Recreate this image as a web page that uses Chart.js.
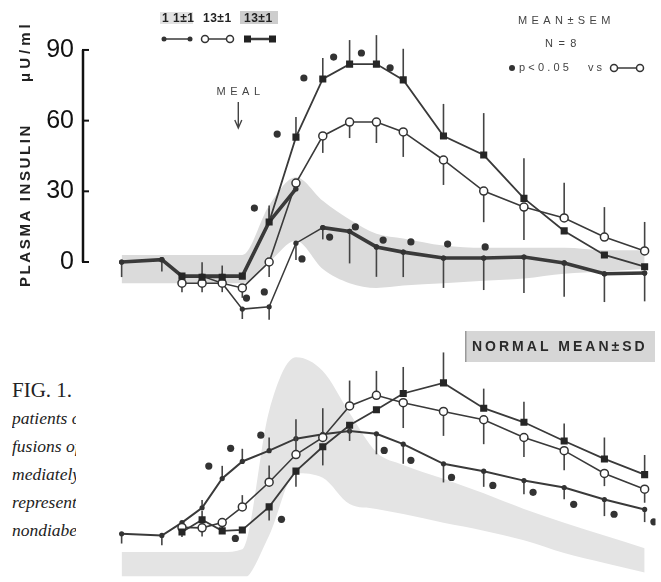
<!DOCTYPE html>
<html>
<head>
<meta charset="utf-8">
<script src="https://cdn.jsdelivr.net/npm/chart.js@4.4.1/dist/chart.umd.min.js"></script>
<style>
html, body { margin: 0; padding: 0; background: #fff; }
#wrap { position: relative; width: 661px; height: 582px; overflow: hidden; background: #fff; }
#wrap canvas { position: absolute; left: 0; top: 0; }
#caption { position: absolute; left: 12px; top: 376px; width: 64px; overflow: hidden; white-space: nowrap;
  font-family: 'Liberation Serif', serif; color: #222; }
#caption div { font-style: italic; font-size: 17.5px; line-height: 28px; }
#caption div.fig { font-style: normal; font-size: 21px; }
</style>
</head>
<body>
<div id="wrap">
  <div id="caption">
    <div class="fig">FIG. 1.</div>
    <div>patients o</div>
    <div>fusions of</div>
    <div>mediately</div>
    <div>represent</div>
    <div>nondiabet</div>
  </div>
  <canvas id="bottomChart" width="661" height="582"></canvas>
  <canvas id="topChart" width="661" height="582"></canvas>
</div>
<script>
// sampling times, min from meal
var times = [-90, -60, -45, -30, -15, 0, 20, 40, 60, 80, 100, 120, 150, 180, 210, 240, 270, 300];
var yTicks = [0, 30, 60, 90];

// upper panel, plasma insulin uU/ml
var topThick   = [0, 1, -6, -6, -6, -6, 17, 31, 14.6, 13, 6.4, 4.2, 1.7, 1.7, 2.1, -0.4, -5, -4.7];
var topThickErr = [-6.4, -5, null, null, null, null, 7, null, -5, -13.6, -12.7, -10.6, -12.7, -13.6, -15.3, -14.4, -12, -12];
var topDots    = [0, 1, -6, -6, -9, -20, -19, 8, 14.6, 13, 6.4, 4.2, 1.7, 1.7, 2.1, -0.4, -5, -4.7];
var topDotsErr = [null, null, null, null, null, -4.2, -5.5, -7.2, null, null, null, null, null, null, null, null, null, null];
var topOpen    = [null, null, -9, -9, -9, -11, 0, 33.5, 53.5, 59.4, 59.4, 55.2, 43.3, 30.1, 23.3, 18.7, 10.6, 4.7];
var topOpenErr = [null, null, -3.8, -3.8, -3.8, -4.2, -6.4, null, -7.2, -6.8, -8.9, -10.6, -10.6, -13.2, -14, 14.9, 12.7, 12.3];
var topSquare  = [null, null, -6, -6.5, -6.5, -6, 17, 53, 77.7, 84, 84, 77.3, 53.5, 45.4, 27, 13.2, 3, -2];
var topSquareErr = [null, null, null, 6.4, 5, null, 5.7, 8.5, 8.9, 10.2, 12.3, 13.2, 13.6, 17.8, 17, null, null, null];
var topBandHi  = [3, 3, 3, 3, 3, 3, 24, 36, 26, 18, 12, 10, 7, 6, 6, 6, 5, 5];
var topBandLo  = [-9, -9, -9, -9, -9, -9, 0, 9, -3, -9, -11, -10, -9, -8, -7, -5, -4, -3];
var topSigTimes = [9, 3.1, 16.4, 44.5, 26, 45.9, 68.1, 88.8, 110.2, 65.1, 84.3, 105, 125.7, 153.1, 181.1];
var topSigVals  = [22.9, -15.3, -12.7, 1.3, 54.3, 78.1, 87, 88.7, 82.4, 10.6, 14.9, 9.3, 8.5, 7.6, 6.4];
var thickBreakAfter = 40;

// lower panel
var botDots    = [0.7, 0, 5.6, 12, 24.7, 32.1, 36.8, 42, 43.9, 45.3, 44.1, 39.6, 31.1, 27.9, 23.8, 20.8, 15.6, 11.3];
var botDotsErr = [-4.2, -4.2, null, 3.4, 5.5, 5.5, 5.7, null, null, null, -8.9, -8.5, -8.1, -6.8, -5.9, -5.1, -7.2, -5.5];
var botOpen    = [null, null, 3.5, 3.3, 5.6, 12.4, 23.1, 35.1, 42.5, 56.2, 60.8, 57.6, 53.8, 50.2, 42.5, 36.8, 26.9, 20.1];
var botOpenErr = [null, null, -4.2, -3.8, -4.2, 5.1, 7.2, 15.3, 12.7, 11, 10.6, -11, -10.6, -10.6, -8.5, -8.5, -5.5, -5.9];
var botSquare  = [null, null, 1.5, 6.8, 2, 2.4, 12.4, 27.9, 38.5, 47.8, 54.5, 61.6, 66.2, 55.2, 49.1, 41, 33.2, 26.4];
var botSquareErr = [null, null, null, 3.8, null, null, -5.9, -6.8, -8.1, -6.8, null, 11.5, 13.2, 8.5, 8.9, 7.6, 9.3, 8.5];
var botBandHi  = [-7.2, -7.2, -7.2, -7.2, -7.2, -6, 54, 77.3, 71.3, 53.1, 36.1, 30.6, 24.6, 18.3, 11.5, 5.5, 0, -5.5];
var botBandLo  = [-19, -19, -19, -19, -19, -19, 0, 27, 25, 13.6, 11.5, 9.3, 5.5, 2.1, -2.1, -7.6, -11.9, -16.1];
var botSigTimes = [-25, -8.7, 13.8, -5.2, 29.2, 105.8, 125.7, 156, 186.8, 216.8, 247.1, 277.2, 306.9];
var botSigVals  = [30.1, 37.8, 43.5, -1.3, 7, 36.9, 32.6, 25.2, 21.7, 18.7, 13.5, 9.2, 5.9];

function pts(vals) {
    return times.map(function (t, i) { return { x: t, y: vals[i] }; });
}
function scatter(ts, vs) {
    return ts.map(function (t, i) { return { x: t, y: vs[i] }; });
}

var INK = '#333';
var LINE = '#3a3a3a';

// one-sided SEM bars, drawn under each series' markers
var errorBars = {
    id: 'errorBars',
    beforeDatasetDraw: function (chart, args) {
        var ds = chart.data.datasets[args.index];
        if (!ds.errors) return;
        var xs = chart.scales[args.meta.xAxisID], ys = chart.scales[args.meta.yAxisID];
        var ctx = chart.ctx;
        ctx.save();
        ctx.strokeStyle = '#444';
        ctx.lineWidth = 1.6;
        ds.data.forEach(function (p, j) {
            var e = ds.errors[j];
            if (e == null || p.y == null) return;
            var x = xs.getPixelForValue(p.x);
            ctx.beginPath();
            ctx.moveTo(x, ys.getPixelForValue(p.y));
            ctx.lineTo(x, ys.getPixelForValue(p.y + e));
            ctx.stroke();
        });
        ctx.restore();
    }
};

function spaced(ctx, txt, x, y, sp, align) {
    ctx.letterSpacing = sp + 'px';
    var w = ctx.measureText(txt).width - sp;
    var x0 = align === 'center' ? x - w / 2 : x;
    ctx.textAlign = 'left';
    ctx.fillText(txt, x0, y);
    ctx.letterSpacing = '0px';
}

function dot(ctx, x, y, r, open) {
    ctx.beginPath();
    ctx.arc(x, y, r, 0, Math.PI * 2);
    if (open) { ctx.fillStyle = '#fff'; ctx.fill(); ctx.lineWidth = 1.5; ctx.strokeStyle = INK; ctx.stroke(); }
    else { ctx.fillStyle = INK; ctx.fill(); }
}

function seg(ctx, x1, y1, x2, y2, w) {
    ctx.beginPath();
    ctx.lineWidth = w;
    ctx.strokeStyle = LINE;
    ctx.moveTo(x1, y1);
    ctx.lineTo(x2, y2);
    ctx.stroke();
}

var topDecor = {
    id: 'topDecor',
    afterDraw: function (chart) {
        var ctx = chart.ctx, ys = chart.scales.y, xs = chart.scales.x;
        var left = chart.chartArea.left;
        ctx.save();
        // axis with inward ticks
        ctx.strokeStyle = '#111';
        ctx.lineWidth = 2.5;
        ctx.beginPath();
        ctx.moveTo(left, ys.getPixelForValue(yTicks[yTicks.length - 1]));
        ctx.lineTo(left, ys.getPixelForValue(yTicks[0]));
        ctx.stroke();
        yTicks.forEach(function (v) {
            var y = ys.getPixelForValue(v);
            ctx.beginPath();
            ctx.lineWidth = 2;
            ctx.moveTo(left - 1, y);
            ctx.lineTo(left + 6, y);
            ctx.stroke();
        });

        // rotated axis title
        ctx.save();
        ctx.fillStyle = '#222';
        ctx.font = 'bold 15px "Liberation Sans", sans-serif';
        ctx.textBaseline = 'alphabetic';
        ctx.translate(30, 287);
        ctx.rotate(-Math.PI / 2);
        spaced(ctx, 'PLASMA INSULIN', 0, 0, 2.6, 'left');
        spaced(ctx, 'μU/ml', 205, 0, 4, 'left');
        ctx.restore();

        // legend of the three regimens
        ctx.fillStyle = '#e2e2e2';
        ctx.fillRect(160, 12, 33, 12);
        ctx.fillStyle = '#cdcdcd';
        ctx.fillRect(240, 11, 38, 13);
        ctx.fillStyle = '#222';
        ctx.font = 'bold 12px "Liberation Sans", sans-serif';
        ctx.textBaseline = 'middle';
        spaced(ctx, '1 1±1', 162, 18.5, 0.5, 'left');
        spaced(ctx, '13±1', 203, 18.5, 0.5, 'left');
        spaced(ctx, '13±1', 244, 18.5, 0.5, 'left');
        seg(ctx, 164, 39, 190, 39, 1.5);
        dot(ctx, 164, 39, 2.5);
        dot(ctx, 190, 39, 2.5);
        seg(ctx, 205, 39, 230, 39, 1.5);
        dot(ctx, 205, 39, 3.5, true);
        dot(ctx, 230, 39, 3.5, true);
        seg(ctx, 248, 39, 272, 39, 2.5);
        ctx.fillStyle = '#222';
        ctx.fillRect(244, 35.5, 7, 7);
        ctx.fillRect(269, 35.5, 7, 7);

        // meal marker
        var mx = xs.getPixelForValue(-3);
        ctx.fillStyle = '#444';
        ctx.font = '11px "Liberation Sans", sans-serif';
        spaced(ctx, 'MEAL', mx, 92, 4.5, 'center');
        ctx.strokeStyle = '#444';
        ctx.lineWidth = 1.4;
        ctx.beginPath();
        ctx.moveTo(mx, 102);
        ctx.lineTo(mx, 128);
        ctx.moveTo(mx - 3.5, 120);
        ctx.lineTo(mx, 128);
        ctx.lineTo(mx + 3.5, 120);
        ctx.stroke();

        // statistics note
        ctx.fillStyle = '#444';
        ctx.font = '11px "Liberation Sans", sans-serif';
        spaced(ctx, 'MEAN±SEM', 518, 21, 4.4, 'left');
        spaced(ctx, 'N=8', 545, 44, 5.5, 'left');
        dot(ctx, 512, 68, 3);
        ctx.fillStyle = '#444';
        spaced(ctx, 'p<0.05', 519, 68, 3.2, 'left');
        spaced(ctx, 'vs', 588, 68, 3, 'left');
        seg(ctx, 614, 68, 640, 68, 1.5);
        dot(ctx, 614, 68, 3.5, true);
        dot(ctx, 640, 68, 3.5, true);
        ctx.restore();
    }
};

var bottomDecor = {
    id: 'bottomDecor',
    afterDraw: function (chart) {
        var ctx = chart.ctx;
        ctx.save();
        ctx.fillStyle = '#d6d6d6';
        ctx.fillRect(465, 331, 190, 31);
        ctx.fillStyle = '#9a9a9a';
        ctx.fillRect(465, 331, 1.5, 31);
        ctx.fillStyle = '#2a2a2a';
        ctx.font = 'bold 14px "Liberation Sans", sans-serif';
        ctx.textBaseline = 'middle';
        spaced(ctx, 'NORMAL MEAN±SD', 472, 347, 3, 'left');
        ctx.restore();
    }
};

var xScale = { type: 'linear', min: -118.8, max: 308.1, display: false };

function bandSets(hi, lo, color) {
    return [
        { data: pts(hi), fill: '+1', backgroundColor: color, borderColor: 'rgba(0,0,0,0)', borderWidth: 0, pointRadius: 0,
          cubicInterpolationMode: 'monotone', order: 9 },
        { data: pts(lo), fill: false, borderColor: 'rgba(0,0,0,0)', borderWidth: 0, pointRadius: 0,
          cubicInterpolationMode: 'monotone', order: 9 }
    ];
}
function dotSet(vals, errs, width, order) {
    return { data: pts(vals), errors: errs, borderColor: LINE, borderWidth: width, pointRadius: 2.6,
        pointBackgroundColor: INK, pointBorderWidth: 0, order: order };
}
function openSet(vals, errs, order) {
    return { data: pts(vals), errors: errs, borderColor: LINE, borderWidth: 1.6, pointRadius: 4,
        pointBackgroundColor: '#fff', pointBorderColor: INK, pointBorderWidth: 1.5, order: order };
}
function squareSet(vals, errs, order) {
    return { data: pts(vals), errors: errs, borderColor: LINE, borderWidth: 1.8, pointStyle: 'rect', pointRadius: 5,
        pointBackgroundColor: '#262626', pointBorderWidth: 0, order: order };
}
function sigSet(ts, vs) {
    return { data: scatter(ts, vs), showLine: false, pointRadius: 3.6, pointBackgroundColor: INK, pointBorderWidth: 0, order: 0 };
}

var thick = dotSet(topThick, topThickErr, 3.6, 5);
thick.segment = {
    borderColor: function (c) { return c.p0.parsed.x === thickBreakAfter ? 'rgba(0,0,0,0)' : undefined; }
};

new Chart(document.getElementById('topChart'), {
    type: 'line',
    data: {
        datasets: bandSets(topBandHi, topBandLo, '#dbdbdb').concat([
            thick,
            dotSet(topDots, topDotsErr, 1.5, 4),
            openSet(topOpen, topOpenErr, 3),
            squareSet(topSquare, topSquareErr, 2),
            sigSet(topSigTimes, topSigVals)
        ])
    },
    options: {
        responsive: false,
        animation: false,
        layout: { padding: { left: 0, right: 0, top: 26.4, bottom: 261.1 } },
        plugins: { legend: { display: false }, tooltip: { enabled: false } },
        scales: {
            x: xScale,
            y: {
                min: -25, max: 100,
                afterBuildTicks: function (s) { s.ticks = yTicks.map(function (v) { return { value: v }; }); },
                afterFit: function (s) { s.width = 83; },
                grid: { display: false, drawTicks: false },
                border: { display: false },
                ticks: { padding: 9, color: '#111', font: { family: 'Liberation Sans', size: 25 } }
            }
        }
    },
    plugins: [errorBars, topDecor]
});

new Chart(document.getElementById('bottomChart'), {
    type: 'line',
    data: {
        datasets: bandSets(botBandHi, botBandLo, '#e4e4e4').concat([
            dotSet(botDots, botDotsErr, 2, 4),
            openSet(botOpen, botOpenErr, 3),
            squareSet(botSquare, botSquareErr, 2),
            sigSet(botSigTimes, botSigVals)
        ])
    },
    options: {
        responsive: false,
        animation: false,
        layout: { padding: { left: 83, right: 0, top: 328, bottom: 0 } },
        plugins: { legend: { display: false }, tooltip: { enabled: false } },
        scales: {
            x: xScale,
            y: { min: -17.8, max: 90, display: false }
        }
    },
    plugins: [errorBars, bottomDecor]
});
</script>
</body>
</html>
